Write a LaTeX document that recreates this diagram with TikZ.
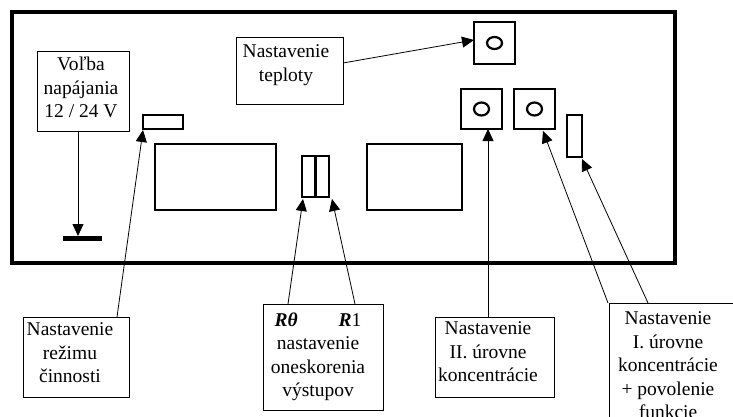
\documentclass[tikz,border=0pt]{standalone}
\usepackage{fontspec}
\setmainfont{Liberation Serif}
\usetikzlibrary{arrows.meta}
\begin{document}
\begin{tikzpicture}[x=1pt,y=-1pt,
  part/.style={draw, line width=2.6pt, anchor=north west, inner sep=0pt, outer sep=0pt},
  lbox/.style={draw, line width=0.8pt, anchor=north west, inner sep=0pt, outer sep=0pt},
  txt/.style={anchor=north, align=center, inner sep=0pt, font=\fontsize{19.5}{23.5}\selectfont},
  arr/.style={line width=0.8pt, -{Triangle[length=12pt,width=11pt]}},
  knob/.style={line width=2.2pt},
  ]
\fill[white] (0,0) rectangle (733,417);
\useasboundingbox (0,0) rectangle (733,417);

% housing
\node[draw, line width=4.5pt, anchor=north west, inner sep=0pt, outer sep=0pt,
      minimum width=663pt, minimum height=251pt] (case) at (12,12) {};

% parts on the panel
\node[part, minimum width=40pt, minimum height=14pt] (sw1) at (143,115) {};
\node[part, minimum width=121pt, minimum height=66pt] (dispL) at (155,144) {};
\node[part, minimum width=95pt, minimum height=66pt] (dispR) at (367,144) {};
\node[part, minimum width=27pt, minimum height=41pt] (dip) at (302,156) {};
\draw[line width=2.2pt] (dip.north) -- (dip.south);
\node[part, minimum width=41pt, minimum height=42pt] (knobT) at (474,22) {};
\draw[knob] (knobT.center) ellipse [x radius=7.5pt, y radius=6pt];
\node[part, minimum width=41pt, minimum height=40pt] (knob2) at (461,89) {};
\draw[knob] (knob2.center) ellipse [x radius=7.5pt, y radius=6.5pt];
\node[part, minimum width=41pt, minimum height=40pt] (knob1) at (514,89) {};
\draw[knob] (knob1.center) ellipse [x radius=7.5pt, y radius=6.5pt];
\node[part, minimum width=15pt, minimum height=42pt] (vsw) at (567,115) {};
\node[fill, anchor=north west, inner sep=0pt, outer sep=0pt,
      minimum width=39pt, minimum height=5pt] (gnd) at (63,236) {};

% label boxes
\node[lbox, minimum width=92pt, minimum height=80pt] (volba) at (37,51) {};
\node[txt] (volbaT) at (81,57) {Voľba\\napájania\\12 / 24 V};

\node[lbox, minimum width=107pt, minimum height=67pt] (tepl) at (236,37) {};
\node[txt] (teplT) at (286,44.5) {Nastavenie\\teploty};

\node[lbox, minimum width=106pt, minimum height=80pt] (rezim) at (23,317) {};
\node[txt] (rezimT) at (70,322.5) {Nastavenie\\režimu\\činnosti};

\node[lbox, minimum width=120pt, minimum height=106pt] (rbox) at (263,304) {};
\node[txt] (rboxT) at (318,312.5) {\textbf{\textit{Rθ}}\hspace{41pt}\textbf{\textit{R}}1\\nastavenie\\oneskorenia\\výstupov};

\node[lbox, minimum width=119pt, minimum height=80pt] (ii) at (435,317) {};
\node[txt] (iiT) at (488,321.5) {Nastavenie\\II. úrovne\\koncentrácie};

\node[lbox, minimum width=140pt, minimum height=140pt] (ibox) at (609,303) {};
\node[txt] (iboxT) at (668,311.5) {Nastavenie\\I. úrovne\\koncentrácie\\+ povolenie\\funkcie};

% connectors
\coordinate (vs) at ([xshift=41pt]volba.south west);
\draw[arr] (vs) -- (vs |- gnd.north);
\draw[arr] ([xshift=94pt]rezim.north west) -- ([yshift=-1pt]sw1.south west);
\draw[arr] ([yshift=7.5pt]tepl.east) -- ([yshift=3pt]knobT.west);
\draw[arr] ([xshift=25pt]rbox.north west) -- ([xshift=1pt,yshift=-2pt]dip.south west);
\draw[arr] ([xshift=92pt]rbox.north west) -- ([xshift=3pt,yshift=-2pt]dip.south east);
\coordinate (iis) at ([xshift=53pt]ii.north west);
\draw[arr] (iis) -- (iis |- knob2.south);
\draw[arr] ([xshift=-1pt]ibox.north west) -- ([xshift=29pt,yshift=-2pt]knob1.south west);
\draw[arr] ([xshift=39pt]ibox.north west) -- ([yshift=-2pt]vsw.south east);
\end{tikzpicture}
\end{document}
